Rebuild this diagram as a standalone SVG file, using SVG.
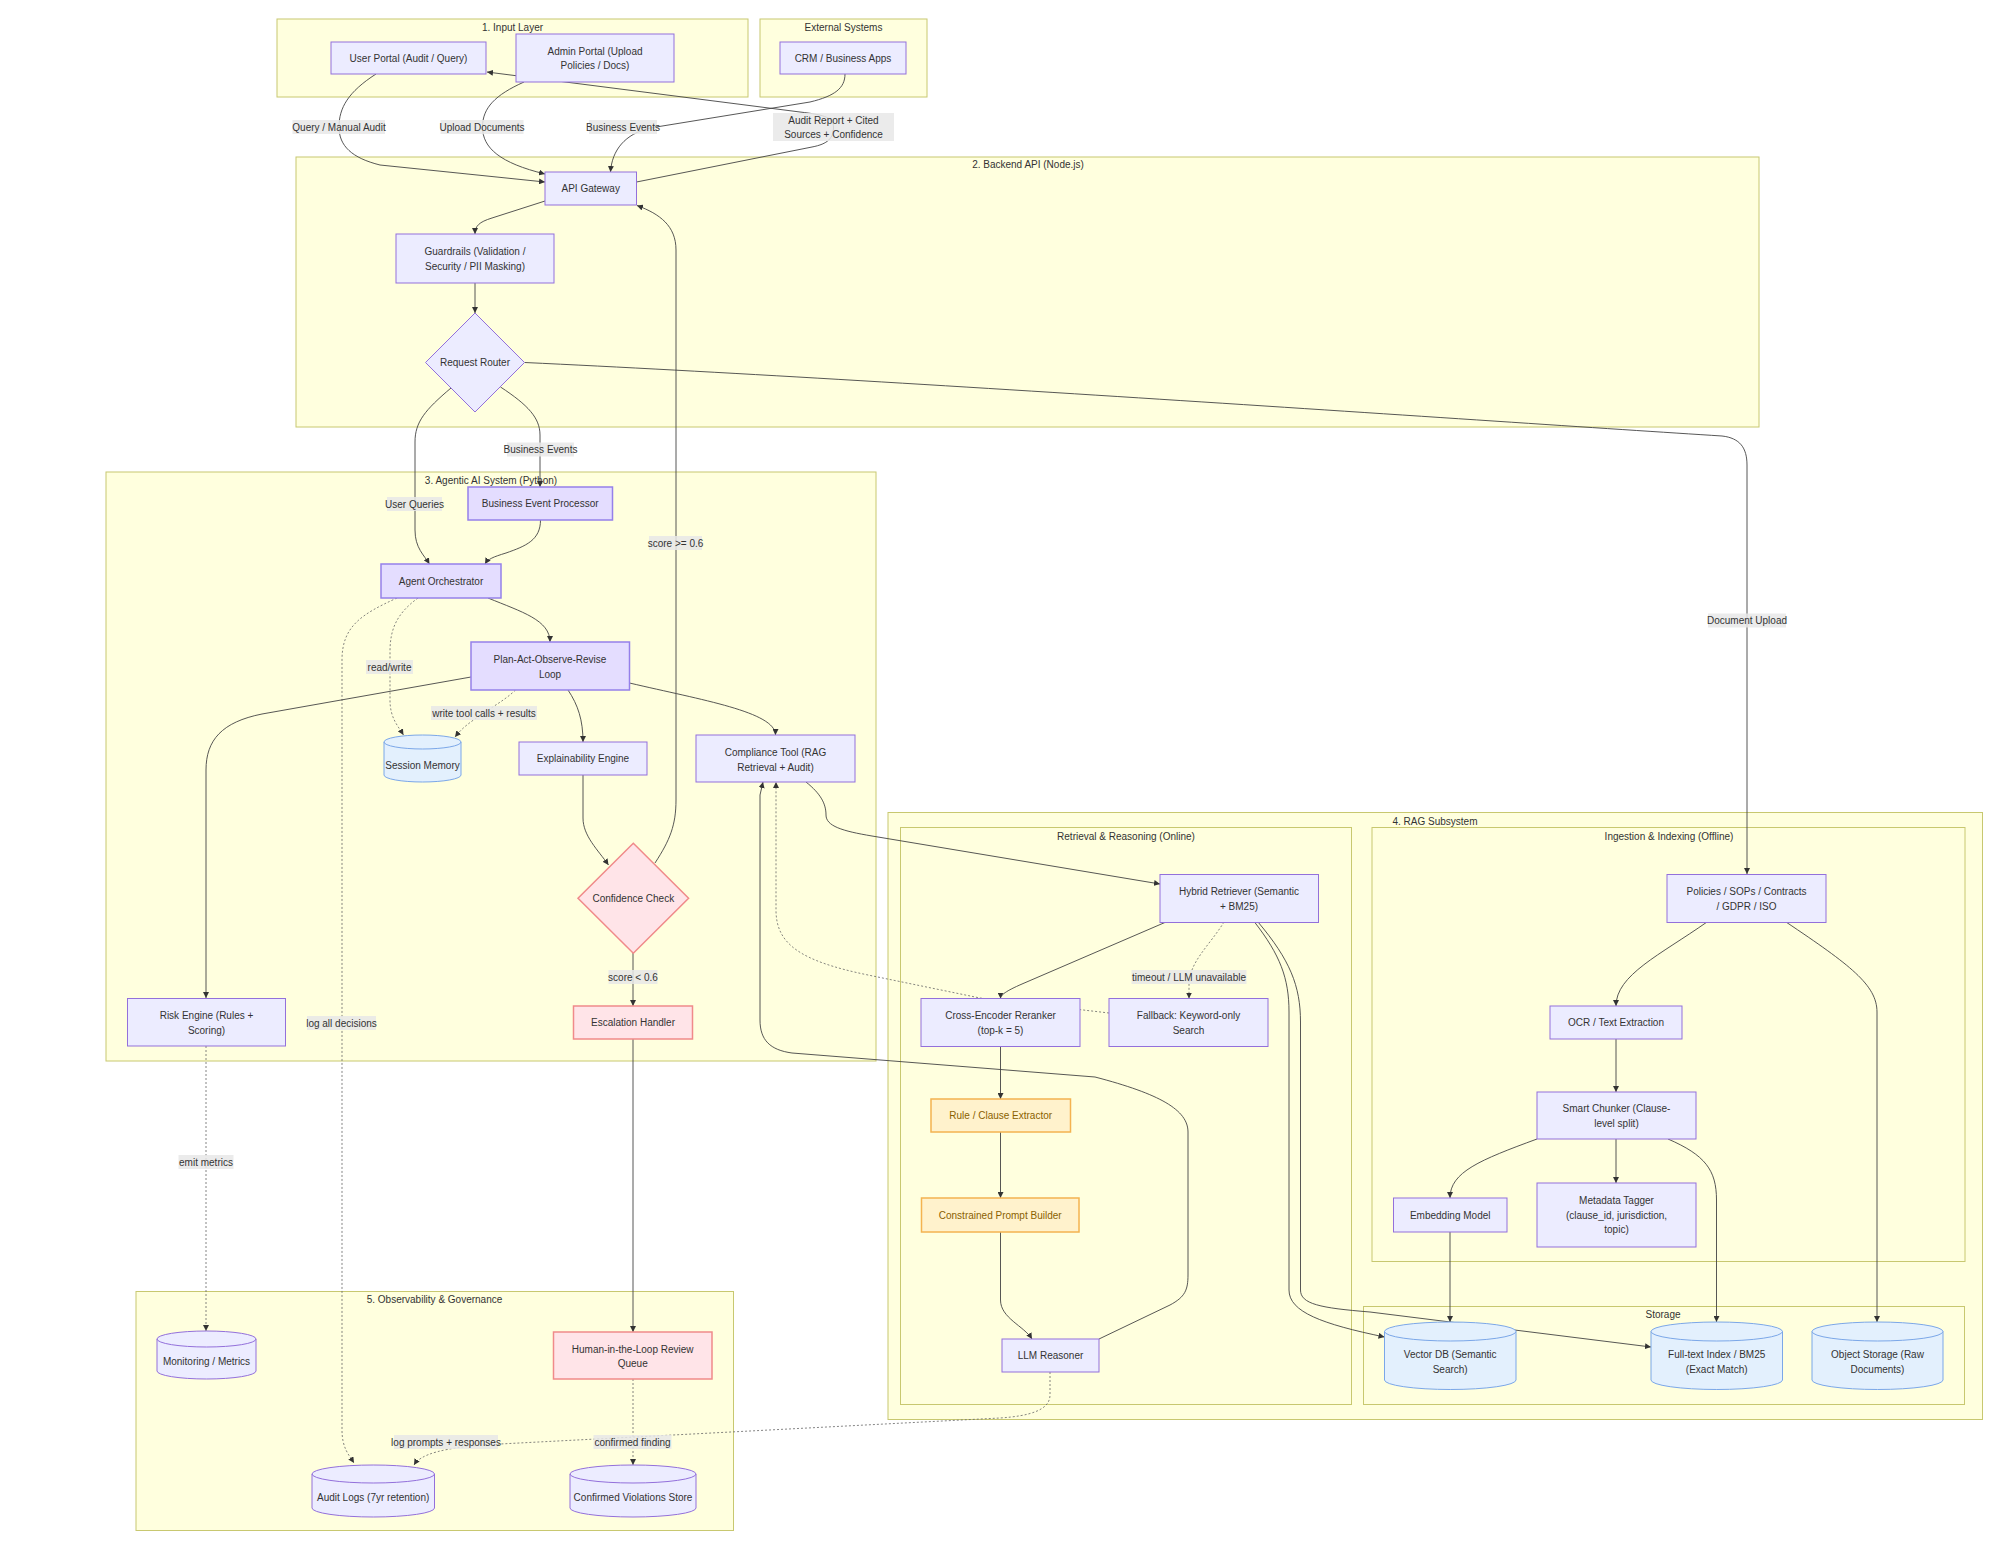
<svg xmlns="http://www.w3.org/2000/svg" width="2002" height="1554" viewBox="0 0 2002 1554">
<style>
.cl{fill:#ffffde;stroke:#c8c870;stroke-width:1}
.n{fill:#ECECFF;stroke:#9370DB;stroke-width:1}
.na{fill:#E4DDFF;stroke:#9580EA;stroke-width:1.5}
.nr{fill:#FFE4E8;stroke:#F08A8A;stroke-width:1.5}
.no{fill:#FFF2CC;stroke:#F4B350;stroke-width:1.5}
.nb{fill:#E3F0FD;stroke:#7BA7E8;stroke-width:1}
text{font-family:"Liberation Sans",Arial,sans-serif;font-size:10px;fill:#333;text-anchor:middle;dominant-baseline:central}
.to{fill:#8a6100}
.e{fill:none;stroke:#444;stroke-width:0.9}
.d{stroke-dasharray:2 2;stroke:#666;stroke-width:0.8}
.lb{fill:#e8e8e8;opacity:0.85}
</style>
<defs>
<marker id="ah" viewBox="0 0 10 10" refX="10" refY="5" markerWidth="6" markerHeight="6" markerUnits="userSpaceOnUse" orient="auto"><path d="M0,0 L10,5 L0,10 z" fill="#333"/></marker>
</defs>
<rect width="2002" height="1554" fill="#fff"/>
<g id="clusters">
<g id="c-input"><rect class="cl" x="277" y="19" width="471" height="78"/><text x="512.5" y="27.5">1. Input Layer</text></g>
<g id="c-external"><rect class="cl" x="760" y="19" width="167" height="78"/><text x="843.5" y="27.5">External Systems</text></g>
<g id="c-backend"><rect class="cl" x="296" y="157" width="1463" height="270"/><text x="1028" y="164">2. Backend API (Node.js)</text></g>
<g id="c-agentic"><rect class="cl" x="106" y="472" width="770" height="589"/><text x="491" y="480">3. Agentic AI System (Python)</text></g>
<g id="c-rag"><rect class="cl" x="888" y="812.5" width="1094.5" height="607"/><text x="1435" y="821">4. RAG Subsystem</text></g>
<g id="c-retrieval"><rect class="cl" x="900.5" y="827.5" width="451" height="577"/><text x="1126" y="836">Retrieval &amp; Reasoning (Online)</text></g>
<g id="c-ingestion"><rect class="cl" x="1372" y="827.5" width="593" height="434"/><text x="1669" y="836">Ingestion &amp; Indexing (Offline)</text></g>
<g id="c-storage"><rect class="cl" x="1363.5" y="1306.5" width="601" height="98"/><text x="1663" y="1314">Storage</text></g>
<g id="c-obs"><rect class="cl" x="136" y="1291.5" width="597.5" height="239"/><text x="434.5" y="1299">5. Observability &amp; Governance</text></g>
</g>
<g id="connectors">
<path class="e" marker-end="url(#ah)" d="M376,74 C348,92 339,108 339,127 C339,146 352,158 380,165 L545,182"/>
<path class="e" marker-end="url(#ah)" d="M524,82 C495,95 482.5,108 482.5,127 C482.5,148 500,163 545,174"/>
<path class="e" marker-end="url(#ah)" d="M845,74 C845,88 835,96 810,102 L650,128 C625,134 612,150 610.5,172"/>
<path class="e" marker-end="url(#ah)" d="M636.5,182 L812,147 C828,144 833.5,138 833.5,127 C833.5,118 826,115 800,112 L487,72"/>
<path class="e" marker-end="url(#ah)" d="M545,201 L492,218 C479,222 475,226 475,234"/>
<path class="e" marker-end="url(#ah)" d="M475,283 L475,313"/>
<path class="e" marker-end="url(#ah)" d="M451,388 C425,410 415,422 415,442 L415,530 C415,548 424,555 429.5,564"/>
<path class="e" marker-end="url(#ah)" d="M500.5,387 C528,405 540,418 540,435 L540,487"/>
<path class="e" marker-end="url(#ah)" d="M524.7,362.5 C900,380 1500,422 1722,436 C1740,438 1747,448 1747,465 L1747,874"/>
<path class="e" marker-end="url(#ah)" d="M540.5,520 C540.5,540 526,546 506,553 C493,557 488,559 485,564"/>
<path class="e" marker-end="url(#ah)" d="M488,598 C522,612 550,620 550,642"/>
<path class="e d" marker-end="url(#ah)" d="M418,598 C396,614 390,630 390,652 L390,700 C390,718 398,726 403.5,735"/>
<path class="e d" marker-end="url(#ah)" d="M397,598 C362,614 342,626 342,660 L342,1430 C342,1448 349,1455 354,1463"/>
<path class="e d" marker-end="url(#ah)" d="M515.5,690 C505,700 495,705 484,713 C470,722 462,728 455,737"/>
<path class="e" marker-end="url(#ah)" d="M568,690 C578,705 583,720 583,742"/>
<path class="e" marker-end="url(#ah)" d="M629.5,683 C702,700 775.5,712 775.5,735"/>
<path class="e" marker-end="url(#ah)" d="M471,677 L262,714 C222,722 206,740 206,770 L206,998"/>
<path class="e" marker-end="url(#ah)" d="M583,775 L583,818 C583,836 598,850 608.5,865"/>
<path class="e" marker-end="url(#ah)" d="M655,863 C670,840 676,825 676,800 L676,250 C676,226 660,214 637,205.5"/>
<path class="e" marker-end="url(#ah)" d="M633,953 L633,1006"/>
<path class="e" marker-end="url(#ah)" d="M633,1039 L633,1332"/>
<path class="e d" marker-end="url(#ah)" d="M206,1046 L206,1331"/>
<path class="e" marker-end="url(#ah)" d="M806,782 C821,794 826,804 826,815 C826,826 842,831 872,836 L1160,884"/>
<path class="e" marker-end="url(#ah)" d="M1166,922 L1022,984 C1006,991 1000.5,995 1000.5,998.5"/>
<path class="e d" marker-end="url(#ah)" d="M1224,922 C1210,945 1189,962 1189,985 L1189,998.5"/>
<path class="e" marker-end="url(#ah)" d="M1254.5,922 C1280,955 1289,978 1289,1012 L1289,1290 C1289,1312 1322,1324 1384.5,1337"/>
<path class="e" marker-end="url(#ah)" d="M1258,922 C1290,960 1300.5,986 1300.5,1022 L1300.5,1290 C1300.5,1304 1320,1308 1370,1312 L1651,1347"/>
<path class="e d" marker-end="url(#ah)" d="M1109,1013 L980,998 L868,975 C800,961 776,944 776,910 L776,782"/>
<path class="e" marker-end="url(#ah)" d="M1000.5,1046.5 L1000.5,1099"/>
<path class="e" marker-end="url(#ah)" d="M1000.5,1132 L1000.5,1198"/>
<path class="e" marker-end="url(#ah)" d="M1000.5,1232 L1000.5,1300 C1000.5,1318 1024,1326 1032,1339"/>
<path class="e" marker-end="url(#ah)" d="M1099,1339 L1170,1305 C1185,1297 1188,1290 1188,1275 L1188,1132 C1188,1110 1160,1094 1095,1077 L792,1053 C770,1050 760,1040 760,1020 L760,795 L763,782"/>
<path class="e d" marker-end="url(#ah)" d="M1050,1372 L1050,1395 C1050,1410 1030,1416 1000,1418 L750,1431 L500,1444 C440,1447 420,1455 414,1465"/>
<path class="e d" marker-end="url(#ah)" d="M633,1379 L633,1465"/>
<path class="e" marker-end="url(#ah)" d="M1707,922 C1660,955 1616,975 1616,1006"/>
<path class="e" marker-end="url(#ah)" d="M1786,922 C1850,965 1877,985 1877,1012 L1877,1322"/>
<path class="e" marker-end="url(#ah)" d="M1616,1039 L1616,1092"/>
<path class="e" marker-end="url(#ah)" d="M1537,1139 C1480,1160 1450,1172 1450,1198"/>
<path class="e" marker-end="url(#ah)" d="M1616,1139 L1616,1183"/>
<path class="e" marker-end="url(#ah)" d="M1668,1139 C1705,1155 1716.5,1170 1716.5,1200 L1716.5,1322"/>
<path class="e" marker-end="url(#ah)" d="M1450,1232 L1450,1322"/>
<g id="edge-labels">
<rect class="lb" x="292.5" y="120" width="92.5" height="14"/><text x="339" y="127">Query / Manual Audit</text>
<rect class="lb" x="440.5" y="120" width="83" height="14"/><text x="482" y="127">Upload Documents</text>
<rect class="lb" x="589" y="120" width="68" height="14"/><text x="623" y="127">Business Events</text>
<rect class="lb" x="773" y="113" width="121" height="28"/><text x="833.5" y="120">Audit Report + Cited</text><text x="833.5" y="134">Sources + Confidence</text>
<rect class="lb" x="507" y="442.5" width="67" height="14"/><text x="540.5" y="449.5">Business Events</text>
<rect class="lb" x="387" y="497" width="55" height="14"/><text x="414.5" y="504">User Queries</text>
<rect class="lb" x="649" y="536" width="53" height="14"/><text x="675.5" y="543">score &gt;= 0.6</text>
<rect class="lb" x="366" y="660" width="47" height="14"/><text x="389.5" y="667">read/write</text>
<rect class="lb" x="431" y="706" width="106" height="14"/><text x="484" y="713">write tool calls + results</text>
<rect class="lb" x="608.5" y="970" width="49" height="14"/><text x="633" y="977">score &lt; 0.6</text>
<rect class="lb" x="307" y="1016" width="69" height="14"/><text x="341.5" y="1023">log all decisions</text>
<rect class="lb" x="1131.5" y="970" width="115" height="14"/><text x="1189" y="977">timeout / LLM unavailable</text>
<rect class="lb" x="178.5" y="1155" width="55" height="14"/><text x="206" y="1162">emit metrics</text>
<rect class="lb" x="1708" y="613.5" width="78" height="14"/><text x="1747" y="620.5">Document Upload</text>
<rect class="lb" x="394" y="1435" width="104" height="14"/><text x="446" y="1442">log prompts + responses</text>
<rect class="lb" x="593.5" y="1435" width="78" height="14"/><text x="632.5" y="1442">confirmed finding</text>
</g>
</g>
<g id="nodes">
<g id="user-portal"><rect class="n" x="331" y="42" width="155" height="32"/><text x="408.5" y="58">User Portal (Audit / Query)</text></g>
<g id="admin-portal"><rect class="n" x="516" y="34" width="158" height="48"/><text x="595" y="51">Admin Portal (Upload</text><text x="595" y="65.5">Policies / Docs)</text></g>
<g id="crm"><rect class="n" x="780" y="42" width="126" height="32"/><text x="843" y="58">CRM / Business Apps</text></g>
<g id="api-gateway"><rect class="n" x="545" y="172" width="91.5" height="33"/><text x="590.7" y="188.5">API Gateway</text></g>
<g id="guardrails"><rect class="n" x="396" y="234" width="158" height="49"/><text x="475" y="251.5">Guardrails (Validation /</text><text x="475" y="266">Security / PII Masking)</text></g>
<g id="request-router"><polygon class="n" points="475,313 524.5,362.5 475,412 425.5,362.5"/><text x="475" y="362.5">Request Router</text></g>
<g id="bep"><rect class="na" x="468" y="487" width="144.5" height="33"/><text x="540.2" y="503.5">Business Event Processor</text></g>
<g id="orchestrator"><rect class="na" x="381" y="564" width="120" height="34"/><text x="441" y="581">Agent Orchestrator</text></g>
<g id="plan-loop"><rect class="na" x="471" y="642" width="158.5" height="48"/><text x="550" y="659">Plan-Act-Observe-Revise</text><text x="550" y="674">Loop</text></g>
<g id="session-memory"><path class="nb" d="M384,742 a38.5,7 0 0 0 77,0 a38.5,7 0 0 0 -77,0 l0,33 a38.5,7 0 0 0 77,0 l0,-33"/><text x="422.5" y="765">Session Memory</text></g>
<g id="explainability"><rect class="n" x="519" y="742" width="128" height="33"/><text x="583" y="758.5">Explainability Engine</text></g>
<g id="compliance-tool"><rect class="n" x="696" y="735" width="159" height="47"/><text x="775.5" y="752">Compliance Tool (RAG</text><text x="775.5" y="767">Retrieval + Audit)</text></g>
<g id="confidence-check"><polygon class="nr" points="633.3,843.3 688.6,898.3 633.3,953.3 578,898.3"/><text x="633.3" y="898.3">Confidence Check</text></g>
<g id="escalation"><rect class="nr" x="573.5" y="1006" width="119" height="33"/><text x="633" y="1022.5">Escalation Handler</text></g>
<g id="risk-engine"><rect class="n" x="127.5" y="998.5" width="158" height="47.5"/><text x="206.5" y="1015.5">Risk Engine (Rules +</text><text x="206.5" y="1030">Scoring)</text></g>
<g id="hybrid"><rect class="n" x="1160" y="874.5" width="158.5" height="48"/><text x="1239" y="891">Hybrid Retriever (Semantic</text><text x="1239" y="906">+ BM25)</text></g>
<g id="reranker"><rect class="n" x="921" y="998.5" width="159" height="48"/><text x="1000.5" y="1015">Cross-Encoder Reranker</text><text x="1000.5" y="1030">(top-k = 5)</text></g>
<g id="fallback"><rect class="n" x="1109" y="998.5" width="159" height="48"/><text x="1188.5" y="1015">Fallback: Keyword-only</text><text x="1188.5" y="1030">Search</text></g>
<g id="rule-extractor"><rect class="no" x="931" y="1099" width="139.5" height="33"/><text class="to" x="1000.7" y="1115.5">Rule / Clause Extractor</text></g>
<g id="prompt-builder"><rect class="no" x="921.5" y="1198" width="157.5" height="34"/><text class="to" x="1000.2" y="1215">Constrained Prompt Builder</text></g>
<g id="llm-reasoner"><rect class="n" x="1002" y="1339" width="97" height="33"/><text x="1050.5" y="1355.5">LLM Reasoner</text></g>
<g id="policies"><rect class="n" x="1667" y="874.5" width="159" height="48"/><text x="1746.5" y="891">Policies / SOPs / Contracts</text><text x="1746.5" y="906">/ GDPR / ISO</text></g>
<g id="ocr"><rect class="n" x="1550" y="1006" width="132" height="33"/><text x="1616" y="1022.5">OCR / Text Extraction</text></g>
<g id="chunker"><rect class="n" x="1537" y="1092" width="159" height="47"/><text x="1616.5" y="1108.5">Smart Chunker (Clause-</text><text x="1616.5" y="1123.5">level split)</text></g>
<g id="embedding"><rect class="n" x="1393.5" y="1198" width="113.5" height="34"/><text x="1450.2" y="1215">Embedding Model</text></g>
<g id="metadata"><rect class="n" x="1537" y="1183" width="159" height="64"/><text x="1616.5" y="1200.5">Metadata Tagger</text><text x="1616.5" y="1215">(clause_id, jurisdiction,</text><text x="1616.5" y="1229.5">topic)</text></g>
<g id="vector-db"><path class="nb" d="M1384.5,1331.5 a65.75,9.5 0 0 0 131.5,0 a65.75,9.5 0 0 0 -131.5,0 l0,48.5 a65.75,9.5 0 0 0 131.5,0 l0,-48.5"/><text x="1450.2" y="1354">Vector DB (Semantic</text><text x="1450.2" y="1369">Search)</text></g>
<g id="fulltext"><path class="nb" d="M1651,1331.5 a65.75,9.5 0 0 0 131.5,0 a65.75,9.5 0 0 0 -131.5,0 l0,48.5 a65.75,9.5 0 0 0 131.5,0 l0,-48.5"/><text x="1716.7" y="1354">Full-text Index / BM25</text><text x="1716.7" y="1369">(Exact Match)</text></g>
<g id="object-storage"><path class="nb" d="M1812,1331.5 a65.5,9.5 0 0 0 131,0 a65.5,9.5 0 0 0 -131,0 l0,48.5 a65.5,9.5 0 0 0 131,0 l0,-48.5"/><text x="1877.5" y="1354">Object Storage (Raw</text><text x="1877.5" y="1369">Documents)</text></g>
<g id="monitoring"><path class="n" d="M157,1339 a49.5,8 0 0 0 99,0 a49.5,8 0 0 0 -99,0 l0,32 a49.5,8 0 0 0 99,0 l0,-32"/><text x="206.5" y="1361.5">Monitoring / Metrics</text></g>
<g id="human-queue"><rect class="nr" x="553.5" y="1332" width="158.5" height="47"/><text x="632.7" y="1349">Human-in-the-Loop Review</text><text x="632.7" y="1363.5">Queue</text></g>
<g id="audit-logs"><path class="n" d="M312,1474 a61.25,9 0 0 0 122.5,0 a61.25,9 0 0 0 -122.5,0 l0,34 a61.25,9 0 0 0 122.5,0 l0,-34"/><text x="373.2" y="1497">Audit Logs (7yr retention)</text></g>
<g id="violations"><path class="n" d="M570,1474 a63,9 0 0 0 126,0 a63,9 0 0 0 -126,0 l0,34 a63,9 0 0 0 126,0 l0,-34"/><text x="633" y="1497">Confirmed Violations Store</text></g>
</g>
</svg>
